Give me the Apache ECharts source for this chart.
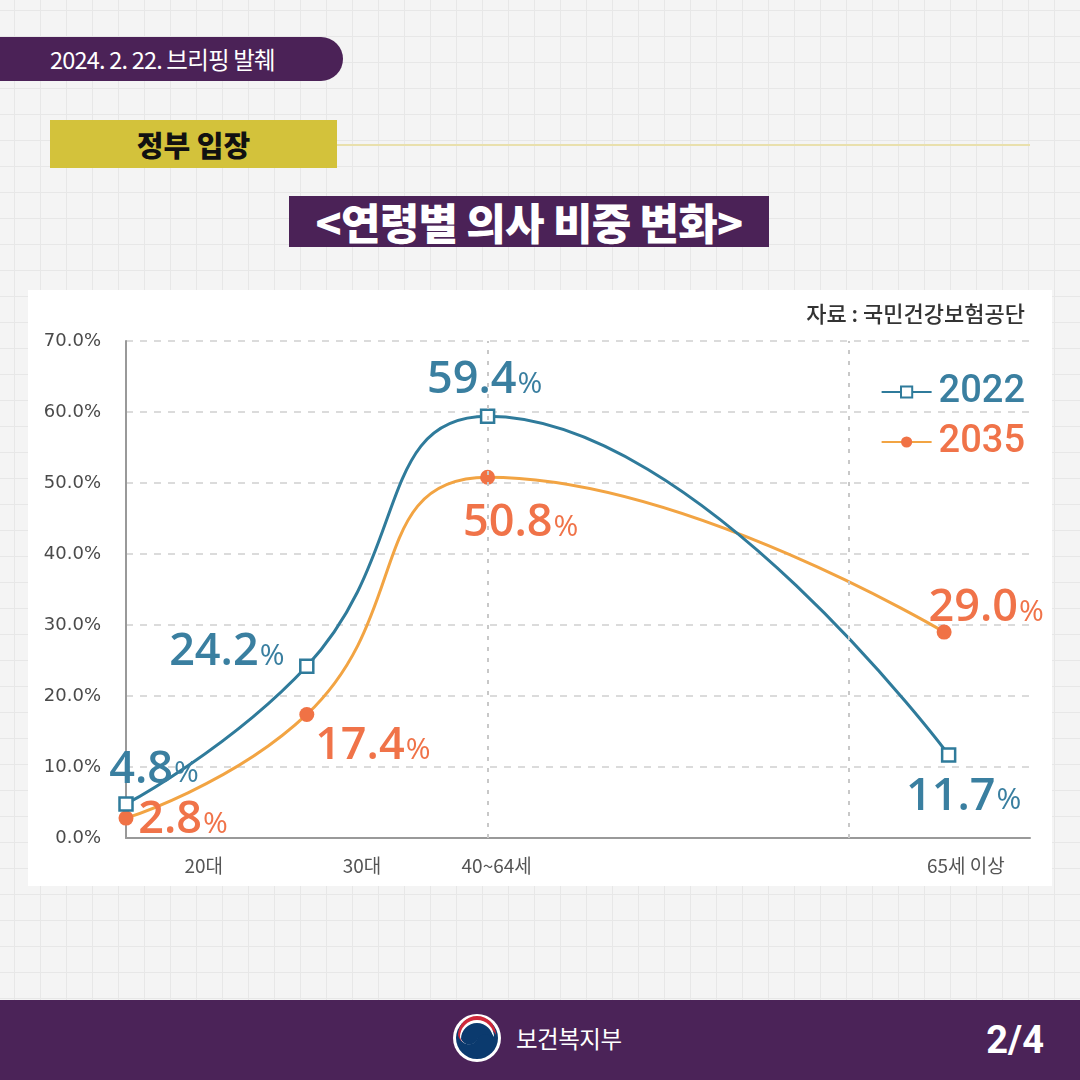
<!DOCTYPE html>
<html>
<head>
<meta charset="utf-8">
<script src="https://cdn.jsdelivr.net/npm/echarts@6/dist/echarts.min.js"></script>
<style>
  html, body { margin:0; padding:0; }
  body {
    width:1080px; height:1080px; position:relative; overflow:hidden;
    background-color:#f4f4f4;
    background-image:
      linear-gradient(to right, #e7e7e7 1px, transparent 1px),
      linear-gradient(to bottom, #e7e7e7 1px, transparent 1px);
    background-size:26px 26px;
    background-position:14px 10px;
    font-family:"Noto Sans CJK KR","Noto Sans",sans-serif;
  }
  .pill { position:absolute; left:0; top:37px; width:343px; height:44px; background:#4b2257;
    border-radius:0 22px 22px 0; color:#fff; font-size:23.5px; line-height:44px; text-align:center; padding-right:18px; box-sizing:border-box; letter-spacing:-0.8px; }
  .ybox { position:absolute; left:50px; top:120px; width:287px; height:48px; background:#d3c23b;
    color:#111; font-weight:900; font-size:29px; line-height:48px; text-align:center; }
  .yline { position:absolute; left:337px; top:144px; width:693px; height:2px; background:#e9e0ad; }
  .tbox { position:absolute; left:289px; top:196px; width:480px; height:51px; background:#4b2257;
    color:#fff; font-weight:900; font-size:43px; line-height:51px; text-align:center; letter-spacing:-0.8px; }
  #chart { position:absolute; left:28px; top:290px; width:1024px; height:596px; background:#fff; }
  .footer { position:absolute; left:0; top:1000px; width:1080px; height:80px; background:#4b2358; }
  .logo { position:absolute; left:452px; top:1013px; }
  .ministry { position:absolute; left:516px; top:1020px; color:#fff; font-size:23.5px; line-height:36px; letter-spacing:-0.5px; }
  .page { position:absolute; right:36px; top:1018px; color:#fff; font-family:"Liberation Sans Narrow","Roboto",sans-serif; font-weight:bold; font-size:38px; line-height:44px; }
</style>
</head>
<body>
<div class="pill">2024. 2. 22. 브리핑 발췌</div>
<div class="yline"></div>
<div class="ybox">정부 입장</div>
<div class="tbox">&lt;연령별 의사 비중 변화&gt;</div>
<div id="chart"></div>
<div class="footer"></div>
<svg class="logo" width="50" height="50" viewBox="0 0 50 50">
  <circle cx="25" cy="25" r="24" fill="#ffffff"/>
  <circle cx="25" cy="25" r="21" fill="#0b3a6e"/>
  <path d="M6 22 A19 19 0 0 1 44 22 A10 10 0 0 0 25 24 A10 10 0 0 1 6 22 Z" fill="#d0293a"/>
  <path d="M8 24 A17 17 0 0 1 42 24 A9 9 0 0 0 25 26 A9 9 0 0 1 8 24 Z" fill="#ffffff"/>
  <path d="M9 26 A16 16 0 0 1 41 26 A9 9 0 0 0 25 27 A9 9 0 0 1 9 26 Z" fill="#0b3a6e"/>
</svg>
<div class="ministry">보건복지부</div>
<div class="page">2/4</div>
<script>
// ---- data ----
const seriesNames = ['2022', '2035'];
const categoryLabels = ['20대', '30대', '40~64세', '65세 이상'];
const categoryLabelX = [8.6, 26.1, 41, 92.9];
const x2022 = [0, 20, 40, 91];
const values2022 = [4.8, 24.2, 59.4, 11.7];
const x2035 = [0, 20, 40, 90.5];
const values2035 = [2.8, 17.4, 50.8, 29.0];
const yTicks = [0, 10, 20, 30, 40, 50, 60, 70];
const verticalRefLines = [40, 80];
const sourceText = '자료 : 국민건강보험공단';

// ---- styles ----
const BLUE = '#2f7b9b';
const BLUE_TXT = '#3a7fa0';
const ORANGE_LINE = '#f2a443';
const ORANGE_DOT = '#f07245';
const ORANGE_TXT = '#f07349';

const offsets2022 = [[28, -34], [-80, -14], [-3, -36], [15, 42]];
const offsets2035 = [[57, 2], [66, 32], [33, 46], [42, -24]];

function buildData(xs, ys, offs, color) {
  return xs.map((x, i) => ({
    value: [x, ys[i]],
    label: {
      show: true, position: 'inside', offset: offs[i],
      formatter: p => '{n|' + p.value[1].toFixed(1) + '}{p|%}',
      rich: {
        n: { fontFamily: 'Open Sans', fontWeight: 600, fontSize: 45, color: color, letterSpacing: -1.5 },
        p: { fontFamily: 'Open Sans', fontWeight: 500, fontSize: 30, color: color, padding: [8, 0, 0, 1] }
      }
    }
  }));
}

const chart = echarts.init(document.getElementById('chart'), null, { renderer: 'canvas' });
chart.setOption({
  animation: false,
  title: {
    text: sourceText, right: 22, top: 8,
    textStyle: { fontFamily: 'Noto Sans CJK KR', fontWeight: 500, fontSize: 22, color: '#333' }
  },
  legend: {
    orient: 'vertical', right: 22, top: 78, itemGap: 12,
    itemWidth: 50, itemHeight: 14,
    data: [
      { name: seriesNames[0], textStyle: { color: BLUE_TXT } },
      { name: seriesNames[1], textStyle: { color: ORANGE_TXT } }
    ],
    textStyle: { fontFamily: 'Roboto', fontWeight: 500, fontSize: 38, padding: [0, 0, 0, 2] }
  },
  grid: { left: 98, right: 22, top: 51, bottom: 48, outerBoundsMode: 'none' },
  xAxis: {
    type: 'value', min: 0, max: 100,
    axisLine: { show: true, lineStyle: { color: '#999', width: 2 } },
    axisTick: { show: false },
    splitLine: { show: false },
    axisLabel: {
      customValues: categoryLabelX,
      formatter: v => { const i = categoryLabelX.indexOf(v); return i >= 0 ? categoryLabels[i] : ''; },
      fontFamily: 'Noto Sans CJK KR', fontSize: 19, color: '#555', margin: 18, letterSpacing: -1
    }
  },
  yAxis: {
    type: 'value', min: yTicks[0], max: yTicks[yTicks.length - 1], interval: 10,
    axisLine: { show: true, lineStyle: { color: '#999', width: 2 } },
    axisTick: { show: false },
    splitLine: { show: true, lineStyle: { type: [7, 7], color: '#cfcfcf', width: 1.5 } },
    axisLabel: {
      formatter: v => v.toFixed(1) + '%',
      fontFamily: 'DejaVu Sans', fontSize: 18, color: '#4a4a4a', margin: 25, letterSpacing: -0.5
    }
  },
  series: [
    {
      name: seriesNames[0], type: 'line', smooth: 0.5,
      data: buildData(x2022, values2022, offsets2022, BLUE_TXT),
      symbol: 'rect', symbolSize: 13,
      itemStyle: { color: '#fff', borderColor: BLUE, borderWidth: 2.5 },
      lineStyle: { color: BLUE, width: 3 },
      z: 3,
      markLine: {
        silent: true, symbol: 'none', label: { show: false },
        lineStyle: { type: [4, 7], color: '#c8c8c8', width: 2 },
        data: verticalRefLines.map(v => ({ xAxis: v }))
      }
    },
    {
      name: seriesNames[1], type: 'line', smooth: 0.5,
      data: buildData(x2035, values2035, offsets2035, ORANGE_TXT),
      symbol: 'circle', symbolSize: 15,
      itemStyle: { color: ORANGE_DOT },
      lineStyle: { color: ORANGE_LINE, width: 3 },
      z: 2
    }
  ]
});
</script>
</body>
</html>
